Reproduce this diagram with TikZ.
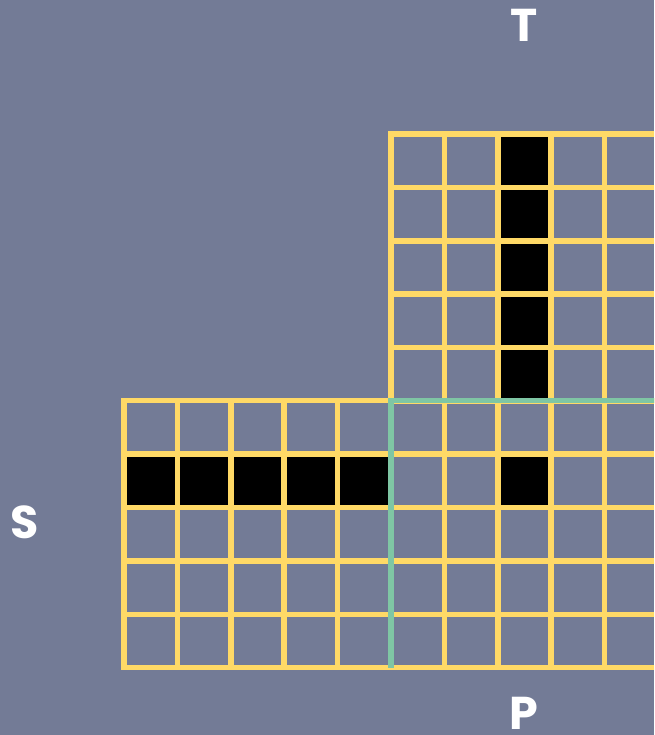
\documentclass[tikz,border=0pt]{standalone}
\usepackage{fontspec}
\setmainfont{Poppins}
\definecolor{slatebg}{RGB}{115,123,150}
\definecolor{gridyellow}{RGB}{255,217,102}
\definecolor{edgegreen}{RGB}{127,198,164}
\newcommand{\cellsz}{53.4}

\begin{document}
\begin{tikzpicture}[x=1pt,y=-1pt]
	\tikzset{gridline/.style={draw=gridyellow,line width=5.5pt,line cap=rect},
		blackcell/.style={fill=black},
		edgeline/.style={draw=edgegreen,line width=5.5pt},
		letter/.style={text=white,font=\bfseries\fontsize{46}{46}\selectfont,inner sep=0pt}}
	\useasboundingbox (0,0) rectangle (654,735);
	\fill[slatebg] (0,0) rectangle (654,735);
	\clip (0,0) rectangle (654,735);
	% black cells
	\foreach \r in {0,...,4}
		\fill[blackcell] ({391+2*\cellsz},{134+\r*\cellsz}) rectangle ++(\cellsz,\cellsz);
	\foreach \c in {0,...,4}
		\fill[blackcell] ({124+\c*\cellsz},{400.7+\cellsz}) rectangle ++(\cellsz,\cellsz);
	\fill[blackcell] ({391+2*\cellsz},{400.7+\cellsz}) rectangle ++(\cellsz,\cellsz);
	% three grids
	\foreach \ox/\oy in {391/134,124/400.7,391/400.7}{
		\foreach \i in {0,...,5}{
			\draw[gridline] ({\ox+\i*\cellsz},\oy) -- ++(0,{5*\cellsz});
			\draw[gridline] (\ox,{\oy+\i*\cellsz}) -- ++({5*\cellsz},0);
		}
	}
	% edge of P
	\coordinate (pcorner) at (391,400.7);
	\coordinate (pright) at (660,400.7);
	\coordinate (pbottom) at (391,667.7);
	\draw[edgeline] (pright) -- (pcorner) -- (pbottom);
	% labels
	\node[letter] (labT) at (524,25) {T};
	\node[letter] (labS) at (25,522) {S};
	\node[letter] (labP) at (524,713) {P};
\end{tikzpicture}
\end{document}
